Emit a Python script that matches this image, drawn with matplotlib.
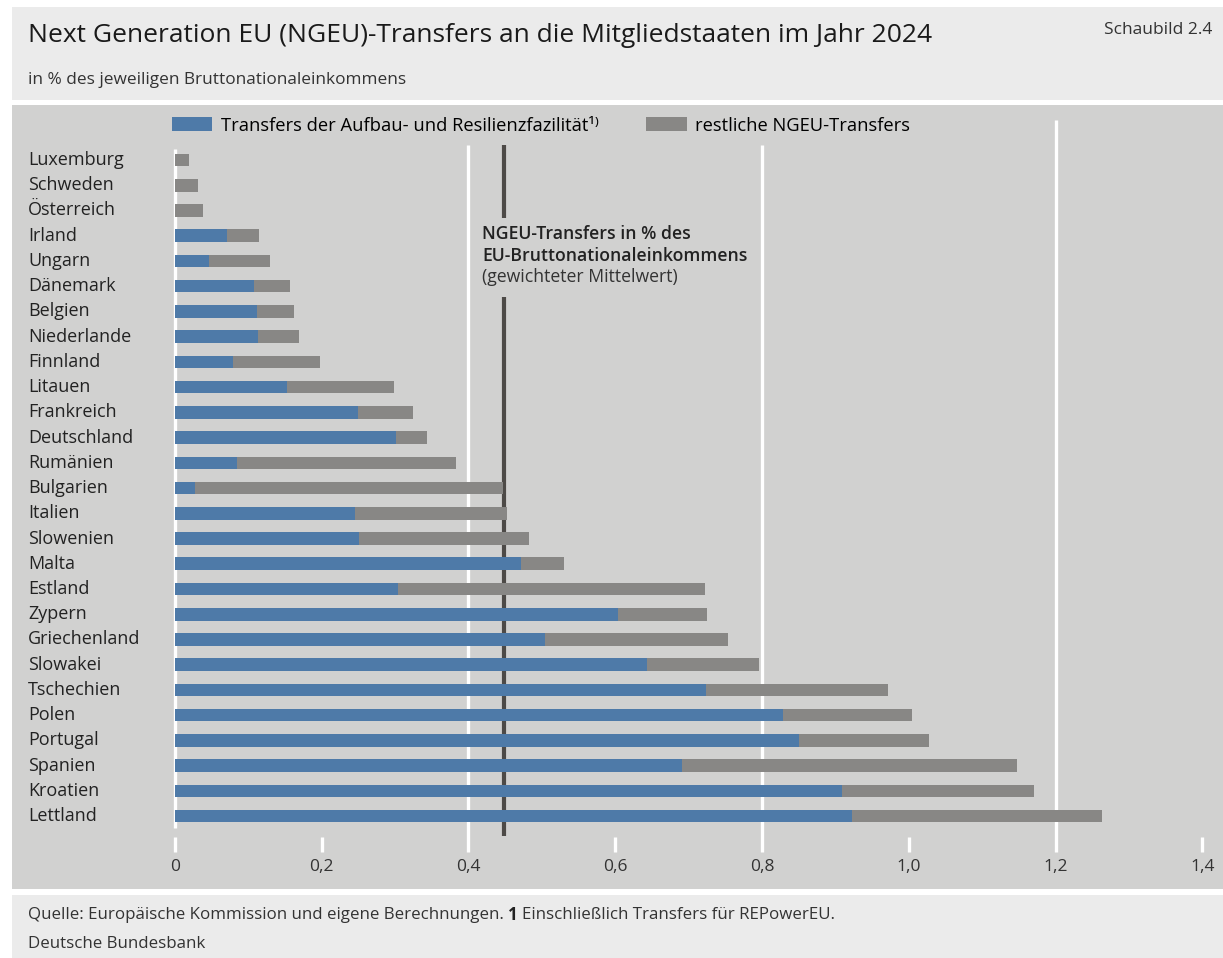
import matplotlib.pyplot as plt
from matplotlib.patches import Rectangle, Patch

plt.rcParams['font.family'] = ['Open Sans', 'DejaVu Sans']

# data (in % of national GNI)
countries = ["Luxemburg", "Schweden", "Österreich", "Irland", "Ungarn", "Dänemark",
             "Belgien", "Niederlande", "Finnland", "Litauen", "Frankreich", "Deutschland",
             "Rumänien", "Bulgarien", "Italien", "Slowenien", "Malta", "Estland",
             "Zypern", "Griechenland", "Slowakei", "Tschechien", "Polen", "Portugal",
             "Spanien", "Kroatien", "Lettland"]
rrf = [0.0, 0.0, 0.0, 0.071, 0.046, 0.108, 0.112, 0.113, 0.079, 0.153, 0.250, 0.301,
       0.085, 0.027, 0.245, 0.251, 0.472, 0.304, 0.604, 0.505, 0.644, 0.724, 0.828,
       0.851, 0.691, 0.909, 0.922]
rest = [0.019, 0.032, 0.039, 0.044, 0.084, 0.049, 0.050, 0.056, 0.119, 0.146, 0.074,
        0.043, 0.298, 0.420, 0.207, 0.232, 0.058, 0.418, 0.121, 0.248, 0.152, 0.248,
        0.177, 0.176, 0.456, 0.261, 0.341]
eu_mean = 0.448
xticks = [0, 0.2, 0.4, 0.6, 0.8, 1.0, 1.2, 1.4]
xticklabels = ["0", "0,2", "0,4", "0,6", "0,8", "1,0", "1,2", "1,4"]
grid_vals = [0.4, 0.8, 1.2]

BLUE = "#4e7aa8"
GREY = "#888785"
PLOT_BG = "#d1d1d0"
HEAD_BG = "#ebebeb"

W, H = 1223, 958
fig = plt.figure(figsize=(W / 100, H / 100), dpi=100)
fig.patch.set_facecolor("white")


def fr(x, y):
    return x / W, 1 - y / H


# header and footer panels
fig.add_artist(Rectangle(fr(12, 100), 1211 / W, 93 / H, transform=fig.transFigure,
                         facecolor=HEAD_BG, edgecolor="none", zorder=0))
fig.add_artist(Rectangle(fr(12, 958), 1211 / W, 63 / H, transform=fig.transFigure,
                         facecolor=HEAD_BG, edgecolor="none", zorder=0))

fig.text(*fr(28, 35), "Next Generation EU (NGEU)-Transfers an die Mitgliedstaaten im Jahr 2024",
         fontsize=19, color="#1a1a1a", va="center", ha="left")
fig.text(*fr(1212, 30), "Schaubild 2.4", fontsize=12.5, color="#333333", va="center", ha="right")
fig.text(*fr(28, 80), "in % des jeweiligen Bruttonationaleinkommens",
         fontsize=12.4, color="#333333", va="center", ha="left")

# plot area
ax = fig.add_axes([12 / W, (H - 889) / H, 1211 / W, 784 / H])
ax.set_facecolor(PLOT_BG)
for s in ax.spines.values():
    s.set_visible(False)
ax.set_xticks([])
ax.set_yticks([])
ax.set_xlim(-0.2217, 1.428)
ax.set_ylim(28.89, -2.18)

ypos = list(range(len(countries)))
ax.barh(ypos, rrf, height=0.5, color=BLUE, zorder=3)
ax.barh(ypos, rest, left=rrf, height=0.5, color=GREY, zorder=3)

xt = ax.get_xaxis_transform()
# gridlines
ax.plot([0, 0], [0.0778, 0.9439], transform=xt, color="white", lw=2.4, zorder=1,
        solid_capstyle="butt")
for g in grid_vals:
    top = 0.981 if g == 1.2 else 0.949
    ax.plot([g, g], [0.0472, top], transform=xt, color="white", lw=2.4, zorder=1,
            solid_capstyle="butt")
for t, lab in zip(xticks, xticklabels):
    if t not in grid_vals:
        ax.plot([t, t], [0.0472, 0.0663], transform=xt, color="white", lw=2.4,
                zorder=1, solid_capstyle="butt")
    ax.text(t, 0.0281, lab, transform=xt, ha="center", va="center",
            fontsize=12.5, color="#333333")

# EU mean line with label gap
ax.plot([eu_mean, eu_mean], [0.8559, 0.949], transform=xt, color="#4d4a47", lw=3,
        zorder=2, solid_capstyle="butt")
ax.plot([eu_mean, eu_mean], [0.0676, 0.7551], transform=xt, color="#4d4a47", lw=3,
        zorder=2, solid_capstyle="butt")
ax.text(0.419, 0.8355, "NGEU-Transfers in % des", transform=xt, fontsize=12.7,
        weight="semibold", color="#222222", va="center", ha="left")
ax.text(0.419, 0.8074, "EU-Bruttonationaleinkommens", transform=xt, fontsize=12.7,
        weight="semibold", color="#222222", va="center", ha="left")
ax.text(0.419, 0.7806, "(gewichteter Mittelwert)", transform=xt, fontsize=12.7,
        color="#333333", va="center", ha="left")

# country labels
yt = ax.get_yaxis_transform()
for i, c in enumerate(countries):
    ax.text(0.0132, i, c, transform=yt, fontsize=13, color="#222222",
            va="center", ha="left")

# legend
handles = [Patch(facecolor=BLUE, edgecolor="none"), Patch(facecolor=GREY, edgecolor="none")]
fig.legend(handles, ["Transfers der Aufbau- und Resilienzfazilität¹⁾", "restliche NGEU-Transfers"],
           loc="center left", bbox_to_anchor=fr(172, 125.5), ncol=2, frameon=False,
           fontsize=13.2, handlelength=2.2, handleheight=0.75, handletextpad=0.45,
           columnspacing=2.6, borderpad=0, borderaxespad=0)

# footer
t1 = fig.text(*fr(28, 915), "Quelle: Europäische Kommission und eigene Berechnungen. ",
              fontsize=12.2, color="#333333", va="center", ha="left")
t2 = fig.text(0, 0, "1", fontsize=12.2, weight="bold", color="#222222", va="center", ha="left")
fig.canvas.draw()
bb = t1.get_window_extent()
t2.set_position(((bb.x1) / W, 1 - 915 / H))
fig.canvas.draw()
bb2 = t2.get_window_extent()
fig.text((bb2.x1 + 4) / W, 1 - 915 / H, "Einschließlich Transfers für REPowerEU.",
         fontsize=12.2, color="#333333", va="center", ha="left")
fig.text(*fr(28, 944), "Deutsche Bundesbank", fontsize=12.2, color="#333333",
         va="center", ha="left")

fig.savefig("out.png", dpi=100, facecolor="white")
